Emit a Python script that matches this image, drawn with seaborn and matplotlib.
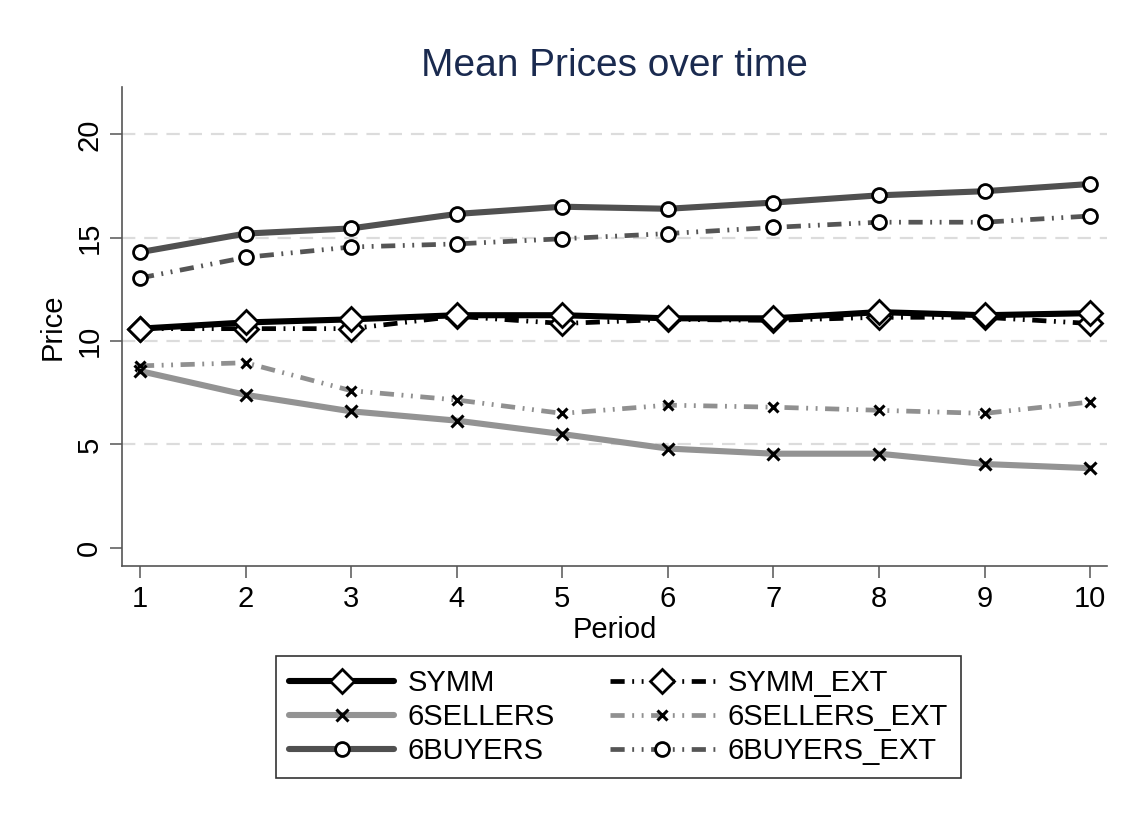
import numpy as np
import seaborn as sns
import matplotlib
matplotlib.use("Agg")
import matplotlib.pyplot as plt

# data
periods = [1, 2, 3, 4, 5, 6, 7, 8, 9, 10]
symm = [10.6, 10.9, 11.05, 11.25, 11.25, 11.1, 11.1, 11.4, 11.25, 11.35]
symm_ext = [10.6, 10.6, 10.6, 11.2, 10.85, 11.05, 11.0, 11.15, 11.15, 10.85]
sellers = [8.55, 7.4, 6.6, 6.15, 5.5, 4.8, 4.55, 4.55, 4.05, 3.85]
sellers_ext = [8.8, 8.95, 7.6, 7.15, 6.5, 6.9, 6.8, 6.65, 6.5, 7.05]
buyers = [14.3, 15.2, 15.45, 16.15, 16.5, 16.4, 16.7, 17.05, 17.25, 17.6]
buyers_ext = [13.05, 14.05, 14.55, 14.7, 14.95, 15.2, 15.5, 15.75, 15.75, 16.05]

sns.set_style("white")
plt.rcParams['font.family'] = ['Liberation Sans', 'DejaVu Sans']
plt.rcParams['text.color'] = 'black'
plt.rcParams['axes.labelcolor'] = 'black'
plt.rcParams['xtick.color'] = 'black'
plt.rcParams['ytick.color'] = 'black'

fig = plt.figure(figsize=(11.31, 8.25), dpi=100)
ax = fig.add_axes([0.1079, 0.3139, 0.8709, 0.5806])

dashdot = (0, (3, 1.6, 0.4, 1.6, 0.4, 1.6))

# extended treatments first (dash-dot-dot lines)
series = [
    ("SYMM_EXT", symm_ext, "black", 3.4, dashdot, "D", 12, "white", 2),
    ("6SELLERS_EXT", sellers_ext, "#909090", 3.4, dashdot, "x", 7, "black", 2.2),
    ("6BUYERS_EXT", buyers_ext, "#555555", 3.4, dashdot, "o", 10, "white", 2),
    ("SYMM", symm, "black", 4.4, "-", "D", 12, "white", 2),
    ("6SELLERS", sellers, "#939393", 4.4, "-", "x", 9, "black", 2.2),
    ("6BUYERS", buyers, "#505050", 4.4, "-", "o", 10, "white", 2),
]

lines = {}
for name, vals, col, lw, ls, mk, ms, mfc, mew in series:
    sns.lineplot(x=periods, y=vals, ax=ax, color=col, linewidth=lw,
                 linestyle=ls, marker=mk, markersize=ms,
                 markerfacecolor=mfc, markeredgecolor="black",
                 markeredgewidth=mew, label=name, legend=False)
    lines[name] = ax.lines[-1]

ax.set_xlim(0.83, 10.16)
ax.set_ylim(-0.885, 22.29)
ax.set_xticks(periods)
ax.set_yticks([0, 5, 10, 15, 20])
for v in [5, 10, 15, 20]:
    ax.axhline(v, color="#dcdcdc", lw=1.6, ls=(0, (6, 4)), zorder=0)

for s in ["top", "right"]:
    ax.spines[s].set_visible(False)
for s in ["left", "bottom"]:
    ax.spines[s].set_color("#555555")
    ax.spines[s].set_linewidth(1.2)

ax.tick_params(axis="both", direction="out", length=8.5, width=1.1,
               color="#555555", labelcolor="black", labelsize=21,
               left=True, bottom=True, pad=5)
plt.setp(ax.get_yticklabels(), rotation=90, va="center")

ax.set_title("Mean Prices over time", fontsize=28, color="#1a2a4f", pad=8)
ax.set_xlabel("Period", fontsize=21, labelpad=2)
ax.set_ylabel("Price", fontsize=21, labelpad=6)

order = ["SYMM", "6SELLERS", "6BUYERS", "SYMM_EXT", "6SELLERS_EXT", "6BUYERS_EXT"]
leg = ax.legend([lines[n] for n in order], order, ncol=2, loc="center",
                bbox_to_anchor=(0.547, 0.131), bbox_transform=fig.transFigure,
                fontsize=21, frameon=True, fancybox=False, handlelength=3.6,
                handletextpad=0.45, columnspacing=1.9, labelspacing=0.2,
                borderpad=0.45, numpoints=1)
leg.get_frame().set_edgecolor("black")
leg.get_frame().set_linewidth(1.2)

fig.savefig("out.png", dpi=100)
